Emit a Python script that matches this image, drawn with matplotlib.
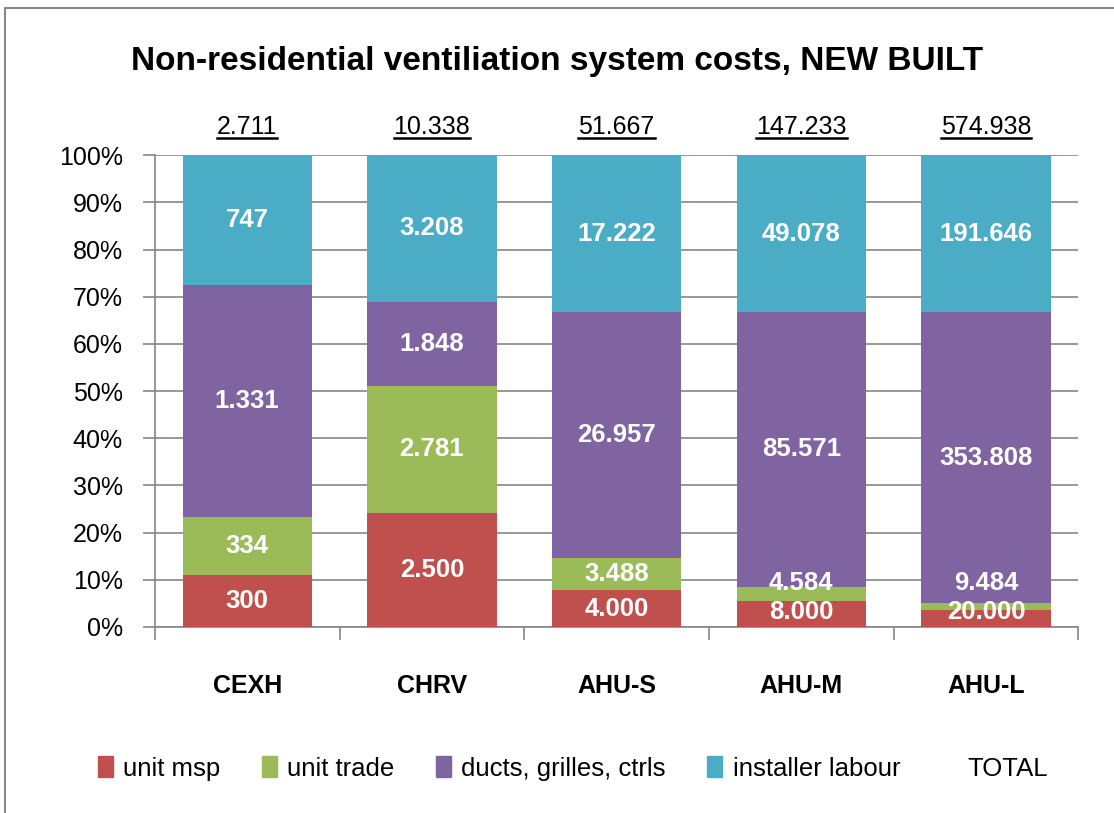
import numpy as np
import matplotlib
matplotlib.use("Agg")
from matplotlib import pyplot as plt
from matplotlib.lines import Line2D
from matplotlib.patches import Rectangle, Patch

plt.rcParams['font.family'] = ['Liberation Sans', 'DejaVu Sans']

categories = ["CEXH", "CHRV", "AHU-S", "AHU-M", "AHU-L"]
series_names = ["unit msp", "unit trade", "ducts, grilles, ctrls", "installer labour"]
unit_msp = [300, 2500, 4000, 8000, 20000]
unit_trade = [334, 2781, 3488, 4584, 9484]
ducts = [1331, 1848, 26957, 85571, 353808]
labour = [747, 3208, 17222, 49078, 191646]
totals = [2711, 10338, 51667, 147233, 574938]
colors = ["#C0504D", "#9BBB59", "#8064A2", "#4BACC6"]


def fmt(v):
    return "{:,}".format(v).replace(",", ".")


fig = plt.figure(figsize=(11.14, 8.13), dpi=100)
ax = fig.add_axes([0.139, 0.229, 0.829, 0.58])

# outer chart frame
fig.patches.append(Rectangle((5 / 1114, -0.05), 1.2, 1 - 8 / 813 + 0.05, transform=fig.transFigure,
                             fill=False, edgecolor="#898989", linewidth=1.5))

data = np.array([unit_msp, unit_trade, ducts, labour], dtype=float)
sums = data.sum(axis=0)
pct = data / sums * 100
x = np.arange(len(categories))
bottom = np.zeros(len(categories))
label_y = np.zeros((4, len(categories)))
for i in range(4):
    ax.bar(x, pct[i], bottom=bottom, width=0.7, color=colors[i], zorder=3, label=series_names[i])
    centers = bottom + pct[i] / 2
    for j in range(len(categories)):
        y = centers[j]
        if i == 0:
            y = max(y, 3.2)
        else:
            y = max(y, label_y[i - 1, j] + 6.0)
        label_y[i, j] = y
        ax.text(x[j], y, fmt(int(data[i, j])), ha="center", va="center", color="white",
                fontsize=18.5, fontweight="bold", zorder=4)
    bottom += pct[i]

ax.set_xlim(-0.5, len(categories) - 0.5)
ax.set_ylim(0, 100)
ax.set_yticks(np.arange(0, 101, 10))
ax.set_yticklabels(["{}%".format(v) for v in range(0, 101, 10)], fontsize=18)
ax.yaxis.grid(True, color="#868686", linewidth=1.2, zorder=0)
ax.set_xticks(x)
ax.set_xticklabels(categories, fontsize=18, fontweight="bold")
ax.set_xticks(np.arange(-0.5, len(categories)), minor=True)
ax.tick_params(axis="x", which="major", length=0, pad=34)
ax.tick_params(axis="x", which="minor", length=9, width=1.2, color="#868686")
ax.tick_params(axis="y", length=9, width=1.2, color="#868686", pad=14)
for s in ["top", "right"]:
    ax.spines[s].set_visible(False)
for s in ["left", "bottom"]:
    ax.spines[s].set_color("#868686")
    ax.spines[s].set_linewidth(1.2)

# totals above bars, underlined
tot_texts = []
for j in range(len(categories)):
    t = ax.text(x[j], 106, fmt(totals[j]), ha="center", va="center", fontsize=18)
    tot_texts.append(t)

fig.suptitle("Non-residential ventiliation system costs, NEW BUILT", y=0.943,
             fontsize=24, fontweight="bold")

handles = [Patch(color=c) for c in colors] + [Line2D([], [], color="none")]
fig.legend(handles, series_names + ["TOTAL"], loc="center", bbox_to_anchor=(0.514, 0.055),
           ncol=5, frameon=False, fontsize=18.5, handlelength=0.6, handleheight=0.9,
           handletextpad=0.4, columnspacing=1.6)

fig.canvas.draw()
r = fig.canvas.get_renderer()
inv = fig.transFigure.inverted()
for t in tot_texts:
    bb = t.get_window_extent(renderer=r)
    (x0, y0) = inv.transform((bb.x0, bb.y0 + 1))
    (x1, _) = inv.transform((bb.x1, bb.y0 + 1))
    fig.lines.append(Line2D([x0, x1], [y0, y0], transform=fig.transFigure, color="black", linewidth=1.8))

fig.savefig("out.png", dpi=100)
